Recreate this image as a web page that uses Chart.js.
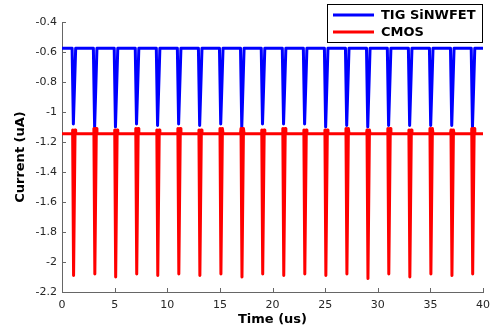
<!DOCTYPE html>
<html>
<head>
<meta charset="utf-8">
<script src="https://cdn.jsdelivr.net/npm/chart.js@4.4.0/dist/chart.umd.min.js"></script>
<style>
html,body{margin:0;padding:0;background:#fff;}
canvas{display:block;}
</style>
</head>
<body>
<canvas id="c" width="493" height="335"></canvas>
<script>
// ---- data ----
const seriesLabels = ["TIG SiNWFET", "CMOS"];
const seriesColors = ["#0000ff", "#ff0000"];
const timeStart = 0, timeEnd = 40;                 // us
const spikeTimes = [1.08, 3.1, 5.08, 7.08, 9.08, 11.08, 13.08, 15.08, 17.08, 19.05,
                    21.05, 23.05, 25.05, 27.05, 29.05, 31.03, 33.03, 35.03, 37.03, 39.0];
const blueBase = -0.575;
const blueMin = [-1.08, -1.10, -1.10, -1.08, -1.09, -1.08, -1.09, -1.08, -1.10, -1.08,
                 -1.08, -1.08, -1.10, -1.09, -1.10, -1.09, -1.09, -1.09, -1.09, -1.10];
const redBase = -1.145;
const redBump = [-1.12, -1.11, -1.12, -1.11, -1.12, -1.11, -1.12, -1.11, -1.11, -1.12,
                 -1.11, -1.12, -1.12, -1.11, -1.12, -1.11, -1.12, -1.11, -1.12, -1.11];
const redMin = [-2.09, -2.08, -2.10, -2.08, -2.09, -2.08, -2.09, -2.08, -2.10, -2.08,
                -2.09, -2.08, -2.09, -2.08, -2.11, -2.08, -2.10, -2.08, -2.09, -2.08];
const xTicks = [0, 5, 10, 15, 20, 25, 30, 35, 40];
const yTicks = [-2.2, -2, -1.8, -1.6, -1.4, -1.2, -1, -0.8, -0.6, -0.4];

// build waveform tables from the spike lists
function buildBlue() {
  const pts = [{x: timeStart, y: blueBase}];
  spikeTimes.forEach((t, i) => {
    pts.push({x: t - 0.12, y: blueBase});
    pts.push({x: t, y: blueMin[i]});
    pts.push({x: t + 0.22, y: blueBase});
  });
  pts.push({x: timeEnd, y: blueBase});
  return pts;
}
function buildRed() {
  const pts = [{x: timeStart, y: redBase}];
  spikeTimes.forEach((t, i) => {
    pts.push({x: t - 0.12, y: redBase});
    pts.push({x: t - 0.07, y: redBump[i]});
    pts.push({x: t + 0.02, y: redMin[i]});
    pts.push({x: t + 0.16, y: redBump[i]});
    pts.push({x: t + 0.22, y: redBase});
  });
  pts.push({x: timeEnd, y: redBase});
  return pts;
}

const axisColor = '#666666';
const tickTextColor = '#262626';

const innerTicks = {
  id: 'innerTicks',
  afterDraw(chart) {
    const ctx = chart.ctx, xs = chart.scales.x, ys = chart.scales.y;
    const a = chart.chartArea;
    ctx.save();
    ctx.strokeStyle = axisColor;
    ctx.lineWidth = 1;
    ctx.beginPath();
    xTicks.forEach(v => {
      const px = Math.round(xs.getPixelForValue(v)) + 0.5;
      ctx.moveTo(px, a.bottom); ctx.lineTo(px, a.bottom - 4);
    });
    yTicks.forEach(v => {
      const py = Math.round(ys.getPixelForValue(v)) + 0.5;
      ctx.moveTo(a.left, py); ctx.lineTo(a.left + 4, py);
    });
    ctx.stroke();
    ctx.restore();
  }
};

const boxLegend = {
  id: 'boxLegend',
  afterDraw(chart) {
    const ctx = chart.ctx;
    ctx.save();
    const bx = 327.5, by = 4.5, bw = 155, bh = 38;
    ctx.fillStyle = '#ffffff';
    ctx.fillRect(bx, by, bw, bh);
    ctx.strokeStyle = '#000000';
    ctx.lineWidth = 1;
    ctx.strokeRect(bx, by, bw, bh);
    ctx.font = 'bold 13px "DejaVu Sans"';
    ctx.textBaseline = 'middle';
    const rows = [15, 32];
    seriesLabels.forEach((lab, i) => {
      ctx.strokeStyle = seriesColors[i];
      ctx.lineWidth = 3;
      ctx.beginPath();
      ctx.moveTo(333, rows[i]); ctx.lineTo(374, rows[i]);
      ctx.stroke();
      ctx.fillStyle = '#000000';
      ctx.fillText(lab, 381, rows[i] + 1);
    });
    ctx.restore();
  }
};

new Chart(document.getElementById('c'), {
  type: 'line',
  data: {
    datasets: [
      {label: seriesLabels[0], data: buildBlue(), borderColor: seriesColors[0], borderWidth: 3,
       pointRadius: 0, tension: 0, fill: false, order: 1, borderJoinStyle: 'round', borderCapStyle: 'round'},
      {label: seriesLabels[1], data: buildRed(), borderColor: seriesColors[1], borderWidth: 3,
       pointRadius: 0, tension: 0, fill: false, order: 0, borderJoinStyle: 'round', borderCapStyle: 'round'}
    ]
  },
  options: {
    responsive: false,
    animation: false,
    devicePixelRatio: 1,
    parsing: false,
    layout: {padding: {top: 22, right: 10, left: 0, bottom: 0}},
    plugins: {legend: {display: false}, tooltip: {enabled: false}},
    scales: {
      x: {
        type: 'linear', min: timeStart, max: timeEnd,
        afterBuildTicks: s => { s.ticks = xTicks.map(v => ({value: v})); },
        afterFit: s => { s.height = 43; s.paddingRight = 0; s.paddingLeft = 0; },
        grid: {display: false, drawTicks: false},
        border: {display: true, color: axisColor, width: 1},
        ticks: {color: tickTextColor, font: {family: '"DejaVu Sans"', size: 11}, padding: 7,
                maxRotation: 0, callback: v => String(v)},
        title: {display: true, text: 'Time (us)', color: '#000',
                font: {family: '"DejaVu Sans"', size: 13, weight: 'bold'}, padding: {top: 0, bottom: 8}}
      },
      y: {
        type: 'linear', min: -2.2, max: -0.4,
        afterBuildTicks: s => { s.ticks = yTicks.map(v => ({value: v})); },
        afterFit: s => { s.width = 62; },
        grid: {display: false, drawTicks: false},
        border: {display: true, color: axisColor, width: 1},
        ticks: {color: tickTextColor, font: {family: '"DejaVu Sans"', size: 11}, padding: 5,
                callback: v => String(Number(v.toFixed(1)))},
        title: {display: true, text: 'Current (uA)', color: '#000',
                font: {family: '"DejaVu Sans"', size: 13, weight: 'bold'}, padding: {top: 13, bottom: 0}}
      }
    }
  },
  plugins: [innerTicks, boxLegend]
});
</script>
</body>
</html>
